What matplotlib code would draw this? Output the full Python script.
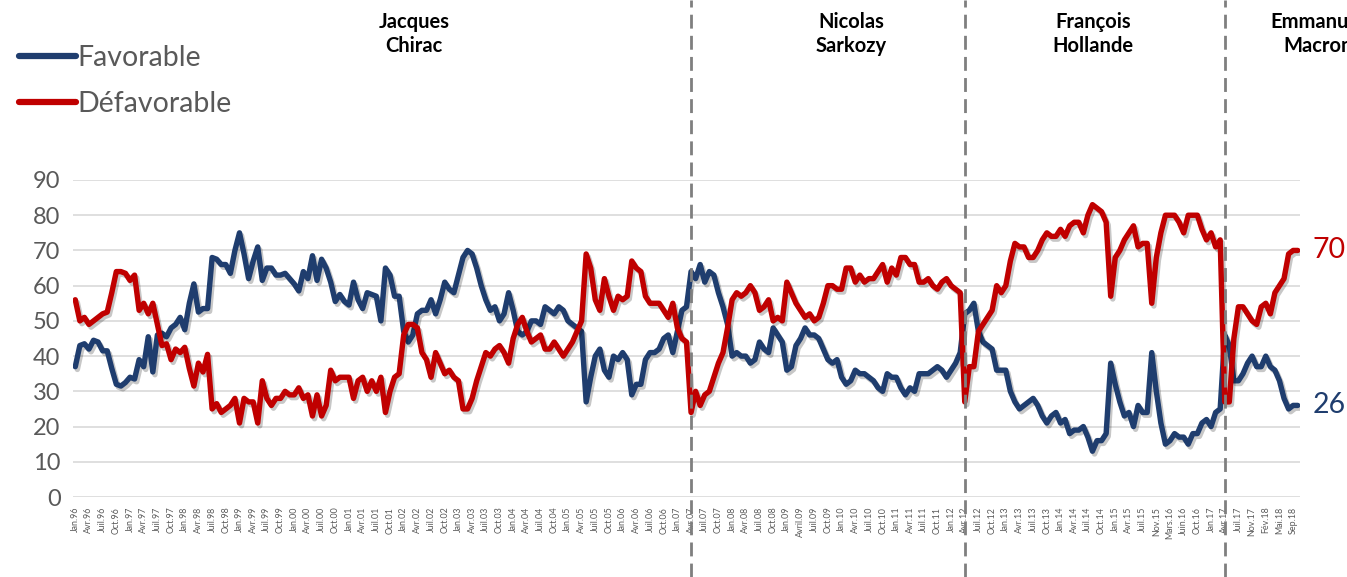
import matplotlib
matplotlib.use("Agg")
import matplotlib.pyplot as plt
import matplotlib.patheffects as pe

plt.rcParams['font.family'] = ['Lato', 'DejaVu Sans']

# ---------------- data ----------------
favorable = [
    37, 43, 43.5, 42, 44.5, 44, 41.5, 41.5, 36.5, 32, 31.5, 32.5, 34, 33.5, 39, 37, 45.5, 35.5, 46, 46.5,
    45.5, 48, 49, 51, 47.5, 55, 60.5, 52.5, 53.5, 53.5, 68, 67.5, 66, 66, 63.5, 70, 75, 69, 62, 67,
    71, 61.5, 65, 65, 63, 63, 63.5, 62, 60.5, 58.5, 64, 62, 68.5, 61.5, 67.5, 65, 61, 55.5, 57.5, 55.5,
    54.5, 61, 56, 53.5, 58, 57.5, 57, 50, 65, 63, 57, 57, 47, 44, 46, 52, 53, 53, 56, 52,
    56, 61, 59, 58, 63, 68, 70, 69, 65, 60, 56, 53, 54, 50, 52, 58, 53, 47, 46, 47,
    50, 50, 49, 54, 53, 52, 54, 53, 50, 49, 48, 47, 27, 34, 40, 42, 36, 34, 40, 39,
    41, 39, 29, 32, 32, 39, 41, 41, 42, 45, 46, 41, 47, 53, 54, 64, 62, 66, 61, 64,
    63, 58, 54, 49, 40, 41, 40, 40, 38, 39, 44, 42, 41, 48, 46, 44, 36, 37, 43, 45,
    48, 46, 46, 45, 42, 39, 38, 39, 34, 32, 33, 36, 35, 35, 34, 33, 31, 30, 35, 34,
    34, 31, 29, 31, 30, 35, 35, 35, 36, 37, 36, 34, 36, 38, 41, 52, 53, 55, 47, 44,
    43, 42, 36, 36, 36, 30, 27, 25, 26, 27, 28, 26, 23, 21, 23, 24, 21, 22, 18, 19,
    19, 20, 17, 13, 16, 16, 18, 38, 32, 27, 23, 24, 20, 26, 24, 24, 41, 30, 21, 15,
    16, 18, 17, 17, 15, 18, 18, 21, 22, 20, 24, 25, 46, 43, 33, 33, 35, 38, 40, 37,
    37, 40, 37, 36, 33, 28, 25, 26, 26,
]

defavorable = [
    56, 50, 51, 49, 50, 51, 52, 52.5, 58, 64, 64, 63.5, 61.5, 63, 53, 55, 52, 55, 49, 43,
    43.5, 39, 42, 41, 42.5, 36.5, 31.5, 38, 35.5, 40.5, 25, 26.5, 24, 25, 26, 28, 21, 28, 27, 27,
    21, 33, 28, 26, 28, 28, 30, 29, 29, 31, 28, 29, 23, 29, 23, 26, 36, 33, 34, 34,
    34, 28, 33, 34, 30, 33, 30, 34, 24, 30, 34, 35, 46, 49, 49, 48, 41, 39, 34, 41,
    38, 35, 36, 34, 33, 25, 25, 28, 33, 37, 41, 40, 42, 43, 41, 38, 45, 49, 51, 47,
    44, 45, 46, 42, 42, 44, 42, 40, 42, 44, 47, 50, 69, 65, 56, 53, 62, 57, 53, 57,
    56, 57, 67, 65, 64, 57, 55, 55, 55, 53, 51, 55, 48, 45, 44, 24, 30, 26, 29, 30,
    34, 38, 41, 48, 56, 58, 57, 58, 60, 58, 53, 54, 56, 50, 51, 50, 61, 58, 55, 53,
    51, 52, 50, 51, 55, 60, 60, 59, 59, 65, 65, 61, 63, 61, 62, 62, 64, 66, 61, 65,
    63, 68, 68, 66, 66, 61, 61, 62, 60, 59, 61, 62, 60, 59, 58, 27, 37, 37, 47, 49,
    51, 53, 60, 58, 60, 67, 72, 71, 71, 68, 68, 70, 73, 75, 74, 74, 76, 74, 77, 78,
    78, 75, 80, 83, 82, 81, 78, 57, 68, 70, 73, 75, 77, 71, 72, 72, 55, 68, 75, 80,
    80, 80, 78, 75, 80, 80, 80, 76, 73, 75, 71, 73, 27, 27, 45, 54, 54, 52, 50, 49,
    54, 55, 52, 58, 60, 62, 69, 70, 70,
]

tick_labels = [
    "Jan.96", "Avr.96", "Juil.96", "Oct.96", "Jan.97", "Avr.97", "Juil.97", "Oct.97",
    "Jan.98", "Avr.98", "Juil.98", "Oct.98", "Jan.99", "Avr.99", "Juil.99", "Oct.99",
    "Jan.00", "Avr.00", "Juil.00", "Oct.00", "Jan.01", "Avr.01", "Juil.01", "Oct.01",
    "Jan.02", "Avr.02", "Juil.02", "Oct.02", "Jan.03", "Avr.03", "Juil.03", "Oct.03",
    "Jan.04", "Avr.04", "Juil.04", "Oct.04", "Jan.05", "Avr.05", "Juil.05", "Oct.05",
    "Jan.06", "Avr.06", "Juil.06", "Oct.06", "Jan.07", "Avr.07", "Juil.07", "Oct.07",
    "Jan.08", "Avr.08", "Juil.08", "Oct.08", "Jan.09", "Avril.09", "Juil.09", "Oct.09",
    "Jan.10", "Avr.10", "Juil.10", "Oct.10", "Jan.11", "Avr.11", "Juil.11", "Oct.11",
    "Jan.12", "Avr.12", "Juil.12", "Oct.12", "Jan.13", "Avr.13", "Juil.13", "Oct.13",
    "Jan.14", "Avr.14", "Juil.14", "Oct.14", "Jan.15", "Avr.15", "Juil.15", "Nov.15",
    "Mars.16", "Juin.16", "Oct.16", "Jan.17", "Avr.17", "Juil.17", "Nov.17", "Fév.18",
    "Mai.18", "Sep.18",
]

presidents = ["Jacques\nChirac", "Nicolas\nSarkozy", "François\nHollande", "Emmanuel\nMacron"]
president_x = [414, 851, 1093, 1318]          # pixel centres of the headers
mandate_breaks = [135, 195, 252]              # wave index of each change of president
label_step = 3

# ---------------- figure ----------------
W, H = 1347, 577
fig = plt.figure(figsize=(W / 100, H / 100), dpi=100)
ax = fig.add_axes([73 / W, 1 - 497 / H, (1300 - 73) / W, (497 - 180) / H])

BLUE = "#1F3D6E"
RED = "#C00000"
GREY = "#595959"

n = len(favorable)
x = list(range(n))
shadow = [pe.SimpleLineShadow(offset=(1.5, -2.0), shadow_color="black", alpha=0.22), pe.Normal()]

l1, = ax.plot(x, favorable, color=BLUE, lw=3.9, solid_capstyle="round",
              solid_joinstyle="round", label="Favorable", path_effects=shadow, zorder=3)
l2, = ax.plot(x, defavorable, color=RED, lw=3.9, solid_capstyle="round",
              solid_joinstyle="round", label="Défavorable", path_effects=shadow, zorder=3)

ax.set_xlim(-0.5, n - 0.5)
ax.set_ylim(0, 90)
ax.set_yticks(range(0, 91, 10))
ax.yaxis.grid(True, color="#D9D9D9", lw=1.2)
ax.set_axisbelow(True)
for s in ax.spines.values():
    s.set_visible(False)

ax.set_xticks(range(0, label_step * len(tick_labels), label_step))
ax.set_xticklabels(tick_labels, rotation=90, fontsize=6.4, color=GREY)
ax.tick_params(axis="x", length=0, pad=7)
ax.tick_params(axis="y", length=0, pad=9, labelsize=17, labelcolor=GREY)

# mandate separators
for b in mandate_breaks:
    ax.axvline(b, ymin=-80 / 317, ymax=1 + 180 / 317, clip_on=False, color="#7F7F7F",
               lw=2, linestyle=(0, (5, 2.6)), zorder=4)

# end labels
ax.annotate(f"{defavorable[-1]:.0f}", (n - 1, defavorable[-1]), xytext=(11, 0),
            textcoords="offset points", ha="left", va="center", color=RED,
            fontsize=20.5, annotation_clip=False)
ax.annotate(f"{favorable[-1]:.0f}", (n - 1, favorable[-1]), xytext=(11, 0),
            textcoords="offset points", ha="left", va="center", color=BLUE,
            fontsize=20.5, annotation_clip=False)

# president headers
for name, px in zip(presidents, president_x):
    fig.text(px / W, 1 - 34 / H, name, ha="center", va="center", fontsize=14.5,
             fontweight="bold", color="black", linespacing=1.3)

# legend
leg = fig.legend(handles=[l1, l2], loc="upper left", bbox_to_anchor=(8 / W, 1 - 34 / H),
                 frameon=False, fontsize=20.5, labelcolor=GREY, handlelength=2.0,
                 handletextpad=0.05, labelspacing=0.68, borderaxespad=0)
for h in leg.legend_handles:
    h.set_path_effects([])
    h.set_linewidth(4.5)

fig.savefig("out.png", dpi=100)
